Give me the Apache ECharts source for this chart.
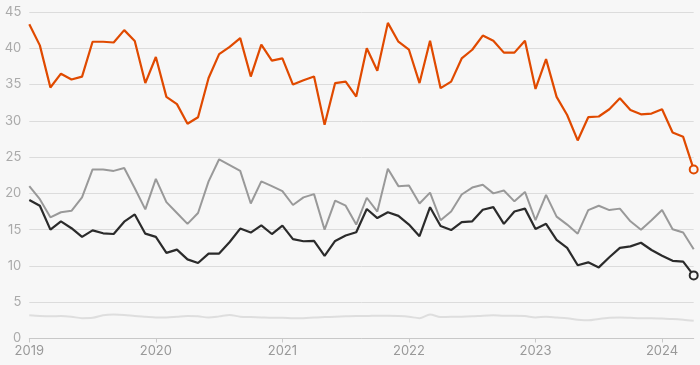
<!DOCTYPE html>
<html>
<head>
<meta charset="utf-8">
<script src="https://cdn.jsdelivr.net/npm/echarts@6/dist/echarts.min.js"></script>
<style>
html,body{margin:0;padding:0;background:#f7f7f7;}
#c{width:700px;height:365px;}
</style>
</head>
<body>
<div id="c"></div>
<script>
// Monthly, Jan 2019 – Apr 2024
const startYear = 2019, nMonths = 64;
const yTicks = [0, 5, 10, 15, 20, 25, 30, 35, 40, 45];

const orange = [43.3, 40.4, 34.6, 36.5, 35.7, 36.1, 40.9, 40.9, 40.8, 42.5,
  41.0, 35.2, 38.8, 33.3, 32.3, 29.6, 30.5, 35.9, 39.2, 40.2,
  41.4, 36.1, 40.5, 38.3, 38.6, 35.0, 35.6, 36.1, 29.45, 35.2,
  35.4, 33.35, 40.0, 36.9, 43.5, 40.9, 39.8, 35.2, 41.05, 34.5,
  35.4, 38.6, 39.8, 41.75, 41.05, 39.4, 39.4, 41.05, 34.4, 38.5,
  33.3, 30.8, 27.3, 30.5, 30.6, 31.6, 33.1, 31.5, 30.9, 31.0,
  31.6, 28.4, 27.8, 23.3];

const grey = [21.0, 19.2, 16.7, 17.4, 17.6, 19.45, 23.3, 23.3, 23.1, 23.5,
  20.7, 17.8, 22.0, 18.8, 17.3, 15.8, 17.3, 21.65, 24.7, 23.9,
  23.1, 18.6, 21.65, 21.0, 20.3, 18.4, 19.45, 19.9, 15.0, 19.0,
  18.3, 15.7, 19.4, 17.5, 23.4, 21.0, 21.1, 18.6, 20.1, 16.3,
  17.5, 19.85, 20.8, 21.2, 20.0, 20.4, 18.9, 20.2, 16.3, 19.8,
  16.8, 15.7, 14.45, 17.7, 18.3, 17.7, 17.9, 16.15, 15.0, 16.3,
  17.7, 15.05, 14.6, 12.3];

const black = [19.1, 18.3, 15.0, 16.15, 15.2, 14.0, 14.9, 14.5, 14.4, 16.1,
  17.1, 14.45, 14.0, 11.8, 12.25, 10.9, 10.4, 11.7, 11.7, 13.3,
  15.15, 14.6, 15.6, 14.4, 15.55, 13.7, 13.4, 13.45, 11.4, 13.45,
  14.2, 14.65, 17.85, 16.6, 17.4, 16.9, 15.7, 14.1, 18.1, 15.5,
  14.95, 16.05, 16.15, 17.75, 18.1, 15.8, 17.5, 17.9, 15.1, 15.8,
  13.6, 12.5, 10.1, 10.5, 9.8, 11.2, 12.5, 12.7, 13.2, 12.2,
  11.4, 10.7, 10.6, 8.7];

const light = [3.2, 3.1, 3.05, 3.1, 3.0, 2.8, 2.85, 3.2, 3.3, 3.25,
  3.1, 3.0, 2.9, 2.9, 3.0, 3.1, 3.05, 2.9, 3.05, 3.25,
  3.0, 2.95, 2.9, 2.85, 2.85, 2.8, 2.8, 2.9, 2.95, 3.0,
  3.05, 3.1, 3.1, 3.15, 3.15, 3.1, 3.0, 2.8, 3.3, 2.95,
  3.0, 3.0, 3.05, 3.15, 3.2, 3.15, 3.15, 3.1, 2.9, 3.0,
  2.9, 2.8, 2.6, 2.5, 2.7, 2.85, 2.9, 2.85, 2.8, 2.8,
  2.75, 2.7, 2.6, 2.45];

const months = [];
for (let i = 0; i < nMonths; i++) {
  const y = startYear + Math.floor(i / 12);
  const m = i % 12 + 1;
  months.push(y + '-' + (m < 10 ? '0' + m : m));
}

function endMarker(data, color) {
  return data.map((v, i) => i === data.length - 1
    ? { value: v, symbol: 'circle', symbolSize: 8,
        itemStyle: { color: '#f7f7f7', borderColor: color, borderWidth: 2 } }
    : v);
}

const chart = echarts.init(document.getElementById('c'), null, { renderer: 'canvas' });
const font = 'Inter, "Noto Sans", sans-serif';
chart.setOption({
  backgroundColor: '#f7f7f7',
  animation: false,
  grid: { left: 29.3, right: 6.3, top: 12, bottom: 26.5, containLabel: false },
  xAxis: {
    type: 'category',
    data: months,
    boundaryGap: false,
    axisLine: { show: true, lineStyle: { color: '#c8c8c8', width: 1 } },
    axisTick: { show: true, length: 4, lineStyle: { color: '#c8c8c8' },
      interval: (i) => i % 12 === 0 },
    axisLabel: { color: '#999', fontFamily: font, fontSize: 13, margin: 6,
      interval: (i) => i % 12 === 0,
      formatter: (v) => v.slice(0, 4) },
    splitLine: { show: false }
  },
  yAxis: {
    type: 'value',
    min: yTicks[0], max: yTicks[yTicks.length - 1], interval: 5,
    axisLine: { show: false },
    axisTick: { show: false },
    axisLabel: { color: '#aaa', fontFamily: font, fontSize: 13, margin: 8 },
    splitLine: { lineStyle: { color: '#dcdcdc', width: 1 } }
  },
  series: [
    { type: 'line', data: light, symbol: 'none', smooth: 0.3,
      lineStyle: { color: '#dedede', width: 2 }, z: 1 },
    { type: 'line', data: grey, symbol: 'none',
      lineStyle: { color: '#999999', width: 2 }, z: 2 },
    { type: 'line', data: endMarker(black, '#2b2b2b'), showSymbol: true, symbol: 'none',
      lineStyle: { color: '#2b2b2b', width: 2.2 }, z: 3 },
    { type: 'line', data: endMarker(orange, '#e04a00'), showSymbol: true, symbol: 'none',
      lineStyle: { color: '#e04a00', width: 2.2 }, z: 4 }
  ]
});
</script>
</body>
</html>
